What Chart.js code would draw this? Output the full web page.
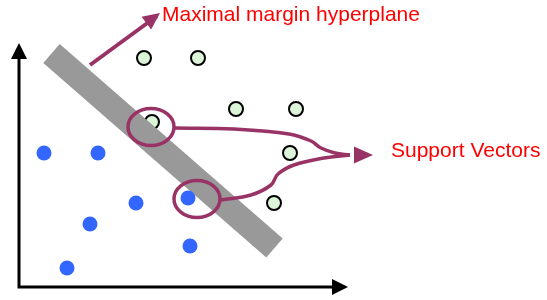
<!DOCTYPE html>
<html>
<head>
<meta charset="utf-8">
<script src="https://cdn.jsdelivr.net/npm/chart.js@4/dist/chart.umd.min.js"></script>
<style>
  html, body { margin: 0; padding: 0; background: #fff; }
  #wrap { width: 547px; height: 300px; }
</style>
</head>
<body>
<div id="wrap"><canvas id="myChart" width="547" height="300"></canvas></div>
<script>
// data space: origin at the corner of the drawn axes, y going up
const classA = [[25, 134], [79, 134], [117, 84], [169, 89], [71, 63], [171, 41], [48, 19]];
const classB = [[125, 229], [179, 229], [217, 178], [277, 178], [133, 165], [271, 134], [255, 84]];
const hyperplane = [[32.5, 233.5], [255.5, 39]];
const supportVectors = [[132, 160], [178, 88]];
const curveTop = [[156, 159], [215, 158], [270, 153], [292, 146], [302, 139], [316, 134], [331, 132]];
const curveBottom = [[202, 87], [232, 92], [252, 102], [259, 113], [275, 122], [305, 129], [331, 132]];
const planeArrow = [[71, 222], [138, 271]];
const xAxisEnd = [329, 0];
const yAxisEnd = [0, 244];
const labels = ["Maximal margin hyperplane", "Support Vectors"];
const labelAt = [[143, 266], [372, 130]];
const vectorTip = [354, 132];
const planeTip = [141, 274];

const plum = "#993366";

const toPts = arr => arr.map(p => ({ x: p[0], y: p[1] }));

function arrowHead(ctx, x1, y1, x2, y2, len, half, color) {
  const a = Math.atan2(y2 - y1, x2 - x1);
  ctx.save();
  ctx.fillStyle = color;
  ctx.translate(x2, y2);
  ctx.rotate(a);
  ctx.beginPath();
  ctx.moveTo(0, 0);
  ctx.lineTo(-len, -half);
  ctx.lineTo(-len, half);
  ctx.closePath();
  ctx.fill();
  ctx.restore();
}

const extras = {
  id: "extras",
  beforeDatasetsDraw(chart) {
    const ctx = chart.ctx;
    const xs = chart.scales.x, ys = chart.scales.y;
    const px = v => xs.getPixelForValue(v), py = v => ys.getPixelForValue(v);
    // axes
    ctx.save();
    ctx.strokeStyle = "#000";
    ctx.lineWidth = 3;
    ctx.beginPath();
    ctx.moveTo(px(0), py(yAxisEnd[1]) + 14);
    ctx.lineTo(px(0), py(0));
    ctx.lineTo(px(xAxisEnd[0]) - 14, py(0));
    ctx.stroke();
    ctx.restore();
    arrowHead(ctx, px(0), py(0), px(yAxisEnd[0]), py(yAxisEnd[1]), 16, 8, "#000");
    arrowHead(ctx, px(0), py(0), px(xAxisEnd[0]), py(xAxisEnd[1]), 16, 8, "#000");
  },
  afterDatasetsDraw(chart) {
    const ctx = chart.ctx;
    const xs = chart.scales.x, ys = chart.scales.y;
    const px = v => xs.getPixelForValue(v), py = v => ys.getPixelForValue(v);
    // circles round the support vectors
    ctx.save();
    ctx.strokeStyle = plum;
    ctx.lineWidth = 3.5;
    supportVectors.forEach(p => {
      ctx.beginPath();
      ctx.ellipse(px(p[0]), py(p[1]), 23, 18.5, 0, 0, Math.PI * 2);
      ctx.stroke();
    });
    ctx.restore();
    // arrowheads
    arrowHead(ctx, px(planeArrow[0][0]), py(planeArrow[0][1]), px(planeTip[0]), py(planeTip[1]), 17, 8, plum);
    const last = curveTop[curveTop.length - 1];
    arrowHead(ctx, px(last[0]), py(last[1]), px(vectorTip[0]), py(vectorTip[1]), 19, 8.5, plum);
    // labels
    ctx.save();
    ctx.fillStyle = "#ff0000";
    ctx.font = "21px 'Liberation Sans', Arial, sans-serif";
    ctx.textBaseline = "alphabetic";
    labels.forEach((t, i) => {
      ctx.fillText(t, px(labelAt[i][0]), py(labelAt[i][1]));
    });
    ctx.restore();
  }
};

new Chart(document.getElementById("myChart"), {
  type: "scatter",
  data: {
    datasets: [
      {
        data: toPts(curveTop), showLine: true, tension: 0.4, order: 0,
        borderColor: plum, borderWidth: 3.5, pointRadius: 0, fill: false
      },
      {
        data: toPts(curveBottom), showLine: true, tension: 0.4, order: 0,
        borderColor: plum, borderWidth: 3.5, pointRadius: 0, fill: false
      },
      {
        data: toPts(planeArrow), showLine: true, order: 0,
        borderColor: plum, borderWidth: 4, pointRadius: 0
      },
      {
        data: toPts(classA), order: 1,
        pointRadius: 7.5, backgroundColor: "#3366ff", borderWidth: 0
      },
      {
        data: toPts(hyperplane), showLine: true, order: 2,
        borderColor: "#999999", borderWidth: 25, borderCapStyle: "butt", pointRadius: 0
      },
      {
        data: toPts(classB), order: 3,
        pointRadius: 7, backgroundColor: "#dcf5d8", borderColor: "#000", borderWidth: 2
      }
    ]
  },
  options: {
    responsive: false,
    animation: false,
    events: [],
    layout: { padding: 0, autoPadding: false },
    plugins: { legend: { display: false }, tooltip: { enabled: false } },
    scales: {
      x: { type: "linear", min: -19, max: 528, display: false },
      y: { type: "linear", min: -13, max: 287, display: false }
    }
  },
  plugins: [extras]
});
</script>
</body>
</html>
